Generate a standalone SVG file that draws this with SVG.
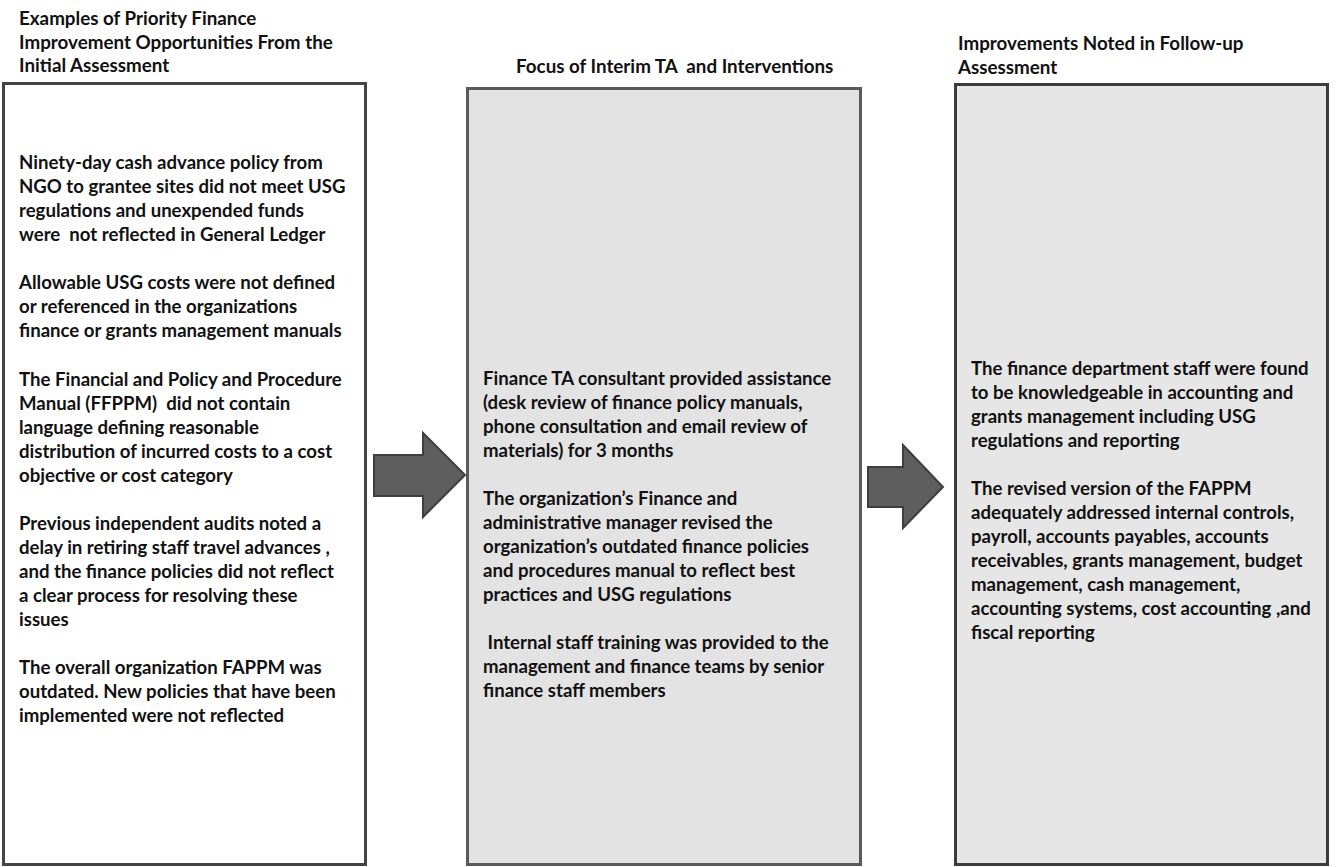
<svg xmlns="http://www.w3.org/2000/svg" width="1337" height="867" viewBox="0 0 1337 867">
<style>
text{font-family:Lato,"Open Sans","Liberation Sans",sans-serif;font-weight:bold;fill:#111;white-space:pre}
.h{font-size:18.8px}
.b{font-size:18.6px}
.box{stroke-width:3}
.arrow{fill:#5e5e5e;stroke:#3e3e3e;stroke-width:2;stroke-linejoin:miter}
</style>
<rect width="1337" height="867" fill="#fff"/>
<g id="header-left">
<text class="h" x="19" y="25">Examples of Priority Finance</text>
<text class="h" x="19" y="48.5">Improvement Opportunities From the</text>
<text class="h" x="19" y="72">Initial Assessment</text>
</g>
<g id="header-middle">
<text class="h" x="516" y="73">Focus of Interim TA  and Interventions</text>
</g>
<g id="header-right">
<text class="h" x="958" y="50">Improvements Noted in Follow-up</text>
<text class="h" x="958" y="73.5">Assessment</text>
</g>
<g id="box-left">
<rect class="box" x="3.5" y="83.5" width="362" height="781" fill="#fff" stroke="#444"/>
<text class="b" x="19" y="169">Ninety-day cash advance policy from</text>
<text class="b" x="19" y="193">NGO to grantee sites did not meet USG</text>
<text class="b" x="19" y="217">regulations and unexpended funds</text>
<text class="b" x="19" y="241">were  not reflected in General Ledger</text>
<text class="b" x="19" y="289">Allowable USG costs were not defined</text>
<text class="b" x="19" y="313">or referenced in the organizations</text>
<text class="b" x="19" y="337">finance or grants management manuals</text>
<text class="b" x="19" y="385.5">The Financial and Policy and Procedure</text>
<text class="b" x="19" y="409.5">Manual (FFPPM)  did not contain</text>
<text class="b" x="19" y="433.5">language defining reasonable</text>
<text class="b" x="19" y="457.5">distribution of incurred costs to a cost</text>
<text class="b" x="19" y="481.5">objective or cost category</text>
<text class="b" x="19" y="530">Previous independent audits noted a</text>
<text class="b" x="19" y="554">delay in retiring staff travel advances ,</text>
<text class="b" x="19" y="578">and the finance policies did not reflect</text>
<text class="b" x="19" y="602">a clear process for resolving these</text>
<text class="b" x="19" y="626">issues</text>
<text class="b" x="19" y="674">The overall organization FAPPM was</text>
<text class="b" x="19" y="698">outdated. New policies that have been</text>
<text class="b" x="19" y="722">implemented were not reflected</text>
</g>
<g id="box-middle">
<rect class="box" x="467.5" y="88.5" width="393" height="776" fill="#e3e3e3" stroke="#5a5a5a"/>
<text class="b" x="483" y="385">Finance TA consultant provided assistance</text>
<text class="b" x="483" y="409">(desk review of finance policy manuals,</text>
<text class="b" x="483" y="433">phone consultation and email review of</text>
<text class="b" x="483" y="457">materials) for 3 months</text>
<text class="b" x="483" y="505">The organization’s Finance and</text>
<text class="b" x="483" y="529">administrative manager revised the</text>
<text class="b" x="483" y="553">organization’s outdated finance policies</text>
<text class="b" x="483" y="577">and procedures manual to reflect best</text>
<text class="b" x="483" y="601">practices and USG regulations</text>
<text class="b" x="483" y="649"> Internal staff training was provided to the</text>
<text class="b" x="483" y="673">management and finance teams by senior</text>
<text class="b" x="483" y="697">finance staff members</text>
</g>
<g id="box-right">
<rect class="box" x="955.5" y="84.5" width="372" height="780" fill="#e6e6e6" stroke="#3c3c3c"/>
<text class="b" x="971" y="375">The finance department staff were found</text>
<text class="b" x="971" y="399">to be knowledgeable in accounting and</text>
<text class="b" x="971" y="423">grants management including USG</text>
<text class="b" x="971" y="447">regulations and reporting</text>
<text class="b" x="971" y="495">The revised version of the FAPPM</text>
<text class="b" x="971" y="519">adequately addressed internal controls,</text>
<text class="b" x="971" y="543">payroll, accounts payables, accounts</text>
<text class="b" x="971" y="567">receivables, grants management, budget</text>
<text class="b" x="971" y="591">management, cash management,</text>
<text class="b" x="971" y="615">accounting systems, cost accounting ,and</text>
<text class="b" x="971" y="639">fiscal reporting</text>
</g>
<g id="connectors">
<polygon class="arrow" points="374,455 423,455 423,433 465,475 423,517 423,496 374,496"/>
<polygon class="arrow" points="868,467 903,467 903,445 943,487 903,528 903,507 868,507"/>
</g>
</svg>
